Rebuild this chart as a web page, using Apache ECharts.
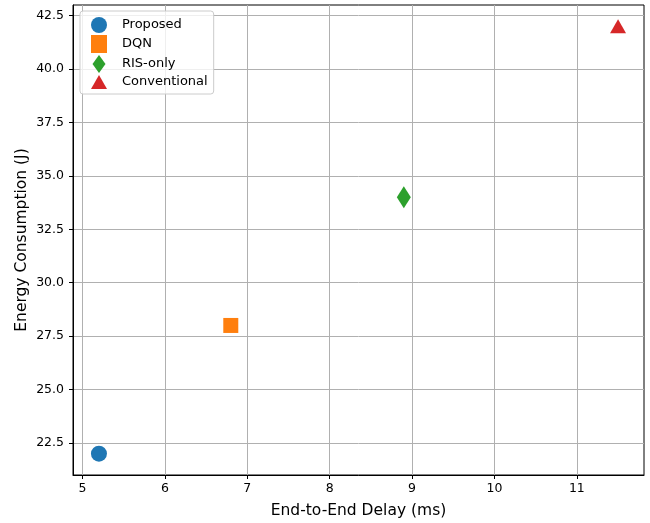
<!DOCTYPE html>
<html>
<head>
<meta charset="utf-8">
<script src="https://cdn.jsdelivr.net/npm/echarts@6/dist/echarts.min.js"></script>
<style>html,body{margin:0;padding:0;background:#fff}#c{width:650px;height:523px}</style>
</head>
<body>
<div id="c"></div>
<script>
const methods = ['Proposed', 'DQN', 'RIS-only', 'Conventional'];
const delays = [5.2, 6.8, 8.9, 11.5];
const energies = [22, 28, 34, 42];
const colors = ['#1f77b4', '#ff7f0e', '#2ca02c', '#d62728'];
const xTicks = [5, 6, 7, 8, 9, 10, 11];
const yTicks = [22.5, 25.0, 27.5, 30.0, 32.5, 35.0, 37.5, 40.0, 42.5];

const symbols = ['circle', 'rect', 'diamond', 'triangle'];
const sizes = [16, 15, [14, 22], [16, 14]];
const keepAspect = [true, true, false, false];
const legendIcons = ['circle', 'rect',
  'path://M0,9L6.5,0L13,9L6.5,18Z',
  'path://M0,2L0,2M16,2L16,2M8,2L16,16L0,16Z'];
const FONT = 'DejaVu Sans';

const chart = echarts.init(document.getElementById('c'), null, {renderer: 'canvas'});
const series = methods.map((m, i) => ({
  name: m,
  type: 'scatter',
  data: [[delays[i], energies[i]]],
  symbol: symbols[i],
  symbolSize: sizes[i],
  symbolKeepAspect: keepAspect[i],
  itemStyle: {color: colors[i], opacity: 1},
  emphasis: {disabled: true},
  z: 5
}));

chart.setOption({
  animation: false,
  backgroundColor: '#ffffff',
  textStyle: {fontFamily: FONT},
  grid: {left: 73, right: 6, top: 5, bottom: 48, containLabel: false, outerBoundsMode: 'none',
    show: true, borderColor: '#000', borderWidth: 1, backgroundColor: 'transparent'},
  legend: {
    orient: 'vertical',
    left: 80, top: 11,
    padding: [6, 6, 5, 11],
    itemWidth: 16, itemHeight: 18, itemGap: 2,
    backgroundColor: 'rgba(255,255,255,0.8)',
    borderColor: '#cccccc', borderWidth: 1, borderRadius: 3,
    textStyle: {fontFamily: FONT, fontSize: 13, color: '#000', padding: [0, 0, 0, 10]},
    data: methods.map((m, i) => ({name: m, icon: legendIcons[i]})),
    selectedMode: false
  },
  xAxis: {
    type: 'value',
    min: 4.885, max: 11.815,
    name: 'End-to-End Delay (ms)',
    nameLocation: 'middle', nameGap: 28,
    nameMoveOverlap: false,
    nameTextStyle: {fontFamily: FONT, fontSize: 15.5, color: '#000'},
    axisLine: {show: true, onZero: false, lineStyle: {color: '#000', width: 1}},
    axisTick: {show: true, length: 4, inside: false, customValues: xTicks, lineStyle: {color: '#000'}},
    axisLabel: {customValues: xTicks, fontFamily: FONT, fontSize: 12.5, color: '#000', margin: 7},
    splitLine: {show: true, lineStyle: {color: '#b0b0b0', width: 1}}
  },
  yAxis: {
    type: 'value',
    min: 21, max: 43,
    name: 'Energy Consumption (J)',
    nameLocation: 'middle', nameGap: 43,
    nameMoveOverlap: false,
    nameTextStyle: {fontFamily: FONT, fontSize: 15.5, color: '#000'},
    axisLine: {show: true, onZero: false, lineStyle: {color: '#000', width: 1}},
    axisTick: {show: true, length: 4, inside: false, customValues: yTicks, lineStyle: {color: '#000'}},
    axisLabel: {customValues: yTicks, fontFamily: FONT, fontSize: 12.5, color: '#000', margin: 9,
      formatter: v => v.toFixed(1)},
    splitLine: {show: true, lineStyle: {color: '#b0b0b0', width: 1}}
  },
  series: series
});
</script>
</body>
</html>
